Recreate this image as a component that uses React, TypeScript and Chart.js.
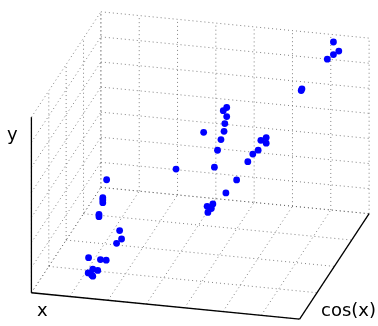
import React, { useEffect, useRef } from "react";
import { Chart, registerables } from "chart.js";

Chart.register(...registerables);

// ---- data (x, cos(x), y) ----
const xValues = [
  1.33, 1.30, 1.21, 1.33, 1.46, 1.22, 1.53, 1.68,
  1.94, 1.99, 1.86,
  1.51, 1.41, 1.41, 1.41, 1.31, 1.31,
  3.14, 3.77,
  4.10, 4.01, 4.10, 4.05, 4.03, 3.95, 3.86,
  5.04, 4.90, 5.04, 4.83, 4.69, 4.56,
  3.96, 4.54, 4.26, 3.92, 3.77, 3.88, 3.79,
  5.61, 5.59,
  6.16, 6.30, 6.16, 6.00,
];
const cosValues = [
  -0.7, -0.7, -0.7, -0.7, -0.7, -0.7, -0.7, -0.7,
  -0.6, -0.6, -0.6,
  -0.5, -0.5, -0.5, -0.5, -0.5, -0.5,
  -0.3, -0.2,
  0.1, 0.1, 0.1, 0.1, 0.1, 0.1, 0.1,
  0.2, 0.2, 0.2, 0.2, 0.2, 0.2,
  -0.1, -0.1, -0.1, -0.1, -0.1, -0.1, -0.1,
  0.6, 0.6,
  0.9, 0.9, 0.9, 0.9,
];
const yValues = [
  0.23, 0.27, 0.34, 0.51, 0.48, 0.95, 0.92, 0.92,
  1.93, 1.60, 1.41,
  3.68, 2.95, 2.86, 2.75, 2.27, 2.18,
  3.93, 5.28,
  5.69, 5.55, 5.33, 5.04, 4.73, 4.39, 3.95,
  4.42, 4.29, 4.20, 3.89, 3.71, 3.39,
  3.71, 3.29, 2.73, 2.24, 2.12, 2.05, 1.88,
  5.61, 5.54,
  6.93, 6.59, 6.43, 6.22,
];

const xTicks = [0, 1, 2, 3, 4, 5, 6, 7];
const cosTicks = [-1, -0.5, 0, 0.5, 1];
const yTicks = [0, 1, 2, 3, 4, 5, 6, 7];

const xLabel = "x";
const cosLabel = "cos(x)";
const yLabel = "y";

// ---- view (projection of the 3D box onto the canvas) ----
const X_MIN = 0, X_MAX = 7;
const C_MIN = -1, C_MAX = 1;
const Y_MIN = 0, Y_MAX = 7;
const ORIGIN = { x: 28, y: 296 };
const U_DIR = { x: 274, y: 27 };
const V_DIR = { x: 71, y: -108 };
const W_DIR = { x: 0, y: -180 };

function project(x: number, c: number, y: number) {
  const u = (x - X_MIN) / (X_MAX - X_MIN);
  const v = (c - C_MIN) / (C_MAX - C_MIN);
  const w = (y - Y_MIN) / (Y_MAX - Y_MIN);
  return {
    x: ORIGIN.x + u * U_DIR.x + v * V_DIR.x + w * W_DIR.x,
    y: ORIGIN.y + u * U_DIR.y + v * V_DIR.y + w * W_DIR.y,
  };
}

type P3 = [number, number, number];

function gridSegments(): [P3, P3][] {
  const segs: [P3, P3][] = [];
  // back wall (cos = max)
  xTicks.forEach((t) => segs.push([[t, C_MAX, Y_MIN], [t, C_MAX, Y_MAX]]));
  yTicks.forEach((t) => segs.push([[X_MIN, C_MAX, t], [X_MAX, C_MAX, t]]));
  // left wall (x = min)
  cosTicks.forEach((t) => segs.push([[X_MIN, t, Y_MIN], [X_MIN, t, Y_MAX]]));
  yTicks.forEach((t) => segs.push([[X_MIN, C_MIN, t], [X_MIN, C_MAX, t]]));
  // floor (y = min)
  xTicks.forEach((t) => segs.push([[t, C_MIN, Y_MIN], [t, C_MAX, Y_MIN]]));
  cosTicks.forEach((t) => segs.push([[X_MIN, t, Y_MIN], [X_MAX, t, Y_MIN]]));
  return segs;
}

const axisSegments: [P3, P3][] = [
  [[X_MIN, C_MIN, Y_MIN], [X_MIN, C_MIN, Y_MAX]],
  [[X_MIN, C_MIN, Y_MIN], [X_MAX, C_MIN, Y_MIN]],
  [[X_MAX, C_MIN, Y_MIN], [X_MAX, C_MAX, Y_MIN]],
];

const labelsPlugin = {
  id: "axisLabels",
  afterDraw(chart: any) {
    const ctx = chart.ctx;
    ctx.save();
    ctx.fillStyle = "#000";
    ctx.font = "18px 'DejaVu Sans'";
    ctx.textBaseline = "alphabetic";
    ctx.textAlign = "left";
    ctx.fillText(yLabel, 7, 140);
    ctx.fillText(xLabel, 37, 316);
    ctx.fillText(cosLabel, 321, 316);
    ctx.restore();
  },
};

export default function App() {
  const ref = useRef<HTMLCanvasElement | null>(null);

  useEffect(() => {
    if (!ref.current) return;
    const datasets: any[] = [];
    gridSegments().forEach((s) => {
      datasets.push({
        data: s.map((p) => project(p[0], p[1], p[2])),
        showLine: true,
        pointRadius: 0,
        borderColor: "rgba(90,90,90,0.75)",
        borderWidth: 1,
        borderDash: [1, 3],
        order: 3,
      });
    });
    axisSegments.forEach((s) => {
      datasets.push({
        data: s.map((p) => project(p[0], p[1], p[2])),
        showLine: true,
        pointRadius: 0,
        borderColor: "#000",
        borderWidth: 1.3,
        order: 2,
      });
    });
    datasets.push({
      data: xValues.map((x, i) => project(x, cosValues[i], yValues[i])),
      showLine: false,
      pointRadius: 3.4,
      pointBorderWidth: 0,
      backgroundColor: "#0000ff",
      borderColor: "#0000ff",
      order: 0,
    });

    const chart = new Chart(ref.current, {
      type: "scatter",
      data: { datasets },
      options: {
        animation: false,
        responsive: false,
        devicePixelRatio: 1,
        layout: { padding: 0 },
        plugins: { legend: { display: false }, tooltip: { enabled: false } },
        scales: {
          x: { type: "linear", min: 0, max: 378, display: false },
          y: { type: "linear", min: 0, max: 326, reverse: true, display: false },
        },
      },
      plugins: [labelsPlugin],
    });
    return () => chart.destroy();
  }, []);

  return (
    <div style={{ position: "absolute", left: 0, top: 0, width: 378, height: 326, background: "#fff" }}>
      <canvas ref={ref} width={378} height={326} />
    </div>
  );
}
